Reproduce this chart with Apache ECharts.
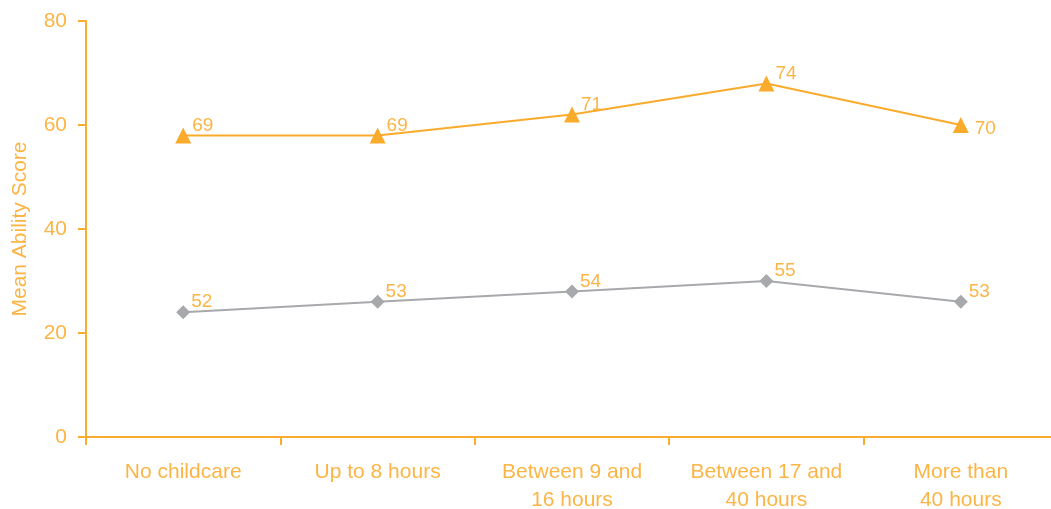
<!DOCTYPE html>
<html>
<head>
<meta charset="utf-8">
<script src="https://cdn.jsdelivr.net/npm/echarts@6/dist/echarts.min.js"></script>
<style>html,body{margin:0;padding:0;background:#fff}#c{width:1051px;height:509px}</style>
</head>
<body>
<div id="c"></div>
<script>
var categories = ['No childcare', 'Up to 8 hours', 'Between 9 and\n16 hours', 'Between 17 and\n40 hours', 'More than\n40 hours'];
var upperSeries = [69, 69, 71, 74, 70];
var lowerSeries = [52, 53, 54, 55, 53];
var yTickLabels = ['0', '20', '40', '60', '80'];
var yMin = 40, yMax = 80, yInterval = 10;

var axisColor = '#FAAC30';
var textColor = '#FBB546';
var font = 'Liberation Sans';

var chart = echarts.init(document.getElementById('c'), null, {renderer: 'canvas'});
var labelBase = {show: true, color: textColor, fontSize: 19, fontFamily: font, position: 'right', distance: 1, offset: [0, -10]};
chart.setOption({
  animation: false,
  grid: {left: 86, right: -7, top: 21, bottom: 72, containLabel: false, outerBoundsMode: 'none'},
  xAxis: {
    type: 'category', data: categories, boundaryGap: true,
    axisLine: {lineStyle: {color: axisColor, width: 2}},
    axisTick: {show: true, length: 8, lineStyle: {color: axisColor, width: 2}},
    axisLabel: {color: textColor, fontSize: 21, fontFamily: font, margin: 21, lineHeight: 28, interval: 0}
  },
  yAxis: {
    type: 'value', min: yMin, max: yMax, interval: yInterval,
    name: 'Mean Ability Score', nameLocation: 'middle', nameGap: 55,
    nameTextStyle: {color: textColor, fontSize: 21, fontFamily: font},
    axisLine: {show: true, lineStyle: {color: axisColor, width: 2}},
    axisTick: {show: true, length: 8, lineStyle: {color: axisColor, width: 2}},
    splitLine: {show: false},
    axisLabel: {color: textColor, fontSize: 21, fontFamily: font, margin: 19,
      formatter: function (v) { return yTickLabels[Math.round((v - yMin) / yInterval)]; }}
  },
  series: [
    {
      type: 'line', data: upperSeries.map(function (v, i) {
        return i === 4 ? {value: v, label: {offset: [5, 4]}} : v;
      }),
      symbol: 'triangle', symbolSize: 16,
      lineStyle: {color: '#FAAB2C', width: 2},
      itemStyle: {color: '#FAAB2C'},
      label: labelBase
    },
    {
      type: 'line', data: lowerSeries,
      symbol: 'diamond', symbolSize: 14,
      lineStyle: {color: '#A7A9AC', width: 2},
      itemStyle: {color: '#A7A9AC'},
      label: labelBase
    }
  ]
});
</script>
</body>
</html>
